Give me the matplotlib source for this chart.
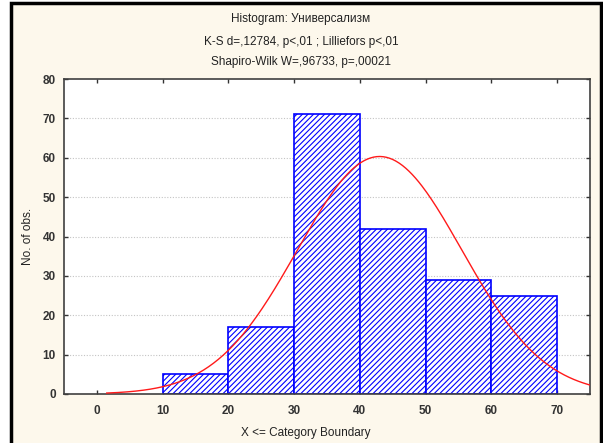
import numpy as np
import matplotlib
matplotlib.use("Agg")
from matplotlib import pyplot as plt
from matplotlib.patches import Rectangle

# histogram data
bin_edges = [10, 20, 30, 40, 50, 60, 70]
counts = [5, 17, 71, 42, 29, 25]
n_total = sum(counts)

# fitted normal curve parameters (estimated)
fit_mean = 43.0
fit_sd = 12.5
curve_start, curve_end = 1.5, 75.0

title_lines = ["Histogram: Универсализм",
               "K-S d=,12784, p<,01 ; Lilliefors p<,01",
               "Shapiro-Wilk W=,96733, p=,00021"]
xticks = [0, 10, 20, 30, 40, 50, 60, 70]
yticks = [0, 10, 20, 30, 40, 50, 60, 70, 80]

plt.rcParams['font.family'] = ['Liberation Sans', 'DejaVu Sans']
plt.rcParams['hatch.linewidth'] = 0.8

fig = plt.figure(figsize=(6.03, 4.43), dpi=100, facecolor='white')
# cream panel with dark frame
fig.patches.append(Rectangle((11 / 603, -0.05), 590 / 603, 1 - 3 / 443 + 0.05,
                             transform=fig.transFigure, facecolor='#fdf8ec',
                             edgecolor='black', linewidth=2.5, zorder=-1))

ax = fig.add_axes([64 / 603, 1 - 394 / 443, 526 / 603, 315 / 443])
ax.set_facecolor('white')

widths = np.diff(bin_edges)
ax.bar(bin_edges[:-1], counts, width=widths, align='edge', color='white',
       edgecolor='#0000ff', hatch='//////', linewidth=1.2, zorder=2)

bw = widths[0]
xs = np.linspace(curve_start, curve_end, 300)
ys = n_total * bw / (fit_sd * np.sqrt(2 * np.pi)) * np.exp(-0.5 * ((xs - fit_mean) / fit_sd) ** 2)
ax.plot(xs, ys, color='#ff1a1a', linewidth=1.0, zorder=3)

ax.set_xlim(-5, 75)
ax.set_ylim(0, 80)
ax.set_xticks(xticks)
ax.set_yticks(yticks)
ax.tick_params(direction='in', length=3, width=1, color='#333333',
               top=True, right=True, labelsize=8.5, labelcolor='#333333', pad=8)
ax.tick_params(axis='y', pad=6)
for lab in ax.get_xticklabels() + ax.get_yticklabels():
    lab.set_fontweight('bold')
for y in yticks[1:-1]:
    ax.axhline(y, color='#c4c4c4', linestyle=(0, (1, 1.5)), linewidth=0.8, zorder=1)
for s in ax.spines.values():
    s.set_color('#404040')
    s.set_linewidth(1.2)

title_y = [19, 42, 62]
for txt, yy in zip(title_lines, title_y):
    fig.text(301 / 603, 1 - yy / 443, txt, ha='center', va='center',
             fontsize=8.5, color='#222222')
fig.text(28 / 603, 1 - 236 / 443, "No. of obs.", rotation=90, ha='center',
         va='center', fontsize=8.5, color='#222222')
fig.text(306 / 603, 1 - 433 / 443, "X <= Category Boundary", ha='center',
         va='center', fontsize=8.5, color='#222222')

plt.savefig("out.png", dpi=100, facecolor=fig.get_facecolor())
